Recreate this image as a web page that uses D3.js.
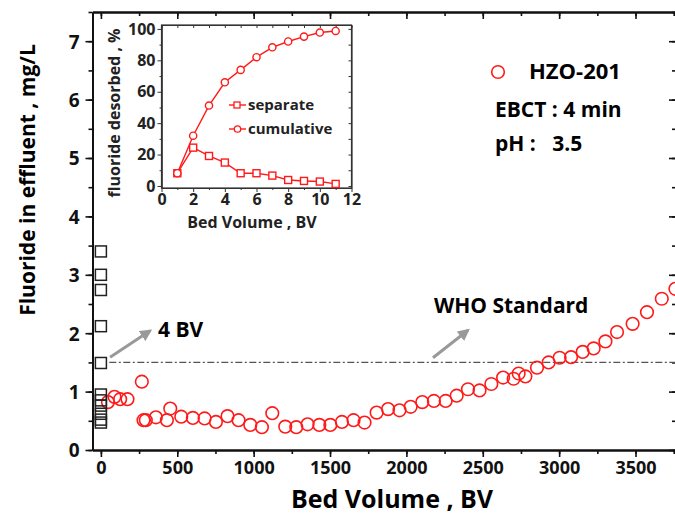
<html>
<head>
<script src="https://cdnjs.cloudflare.com/ajax/libs/d3/7.8.5/d3.min.js"></script>
<style>
body { margin: 0; background: #fff; }
text { font-family: "Open Sans", sans-serif; font-weight: bold; }
</style>
</head>
<body>
<div id="chart"></div>
<script>
// main data: red circles (HZO-201)
var bedVolume = [46, 89, 126, 174, 268, 279, 294, 360, 432, 454, 526, 602, 679, 753, 829, 901, 978, 1054, 1122,
    1207, 1279, 1353, 1430, 1502, 1578, 1654, 1726, 1805, 1880, 1955, 2028, 2104, 2180, 2257, 2329, 2403, 2479,
    2556, 2633, 2702, 2735, 2779, 2855, 2931, 3003, 3078, 3154, 3226, 3303, 3379, 3481, 3575, 3672, 3761];
var fluoride = [0.82, 0.91, 0.87, 0.87, 1.17, 0.51, 0.51, 0.56, 0.51, 0.71, 0.57, 0.55, 0.54, 0.48, 0.58, 0.51, 0.43, 0.39, 0.63,
    0.40, 0.39, 0.44, 0.43, 0.43, 0.48, 0.51, 0.47, 0.64, 0.70, 0.68, 0.74, 0.82, 0.84, 0.84, 0.93, 1.04, 1.02,
    1.13, 1.24, 1.22, 1.31, 1.26, 1.41, 1.50, 1.58, 1.59, 1.68, 1.74, 1.86, 2.02, 2.16, 2.36, 2.59, 2.76];

// black squares at the start (first 4 BV)
var startBV = [0, 0, 0, 0, 0, 0, 0, 0, 0, 0, 0];
var startFluoride = [3.40, 3.00, 2.74, 2.12, 1.49, 0.95, 0.85, 0.76, 0.62, 0.52, 0.47];

var whoStandard = 1.5;

// inset data
var insetBV = [1, 2, 3, 4, 5, 6, 7, 8, 9, 10, 11];
var separate = [8.1, 24.4, 19.1, 14.9, 8.1, 8.1, 6.6, 3.8, 3.2, 2.8, 1.3];
var cumulative = [8.1, 32, 51.2, 66, 73.9, 82, 88.3, 92, 95.1, 97.7, 98.7];

var xTicks = [0, 500, 1000, 1500, 2000, 2500, 3000, 3500];
var yTicks = [0, 1, 2, 3, 4, 5, 6, 7];
var insetXTicks = [0, 2, 4, 6, 8, 10, 12];
var insetYTicks = [0, 20, 40, 60, 80, 100];

var W = 675, H = 519;
var red = "#ff1a1a";

var svg = d3.select("#chart").append("svg")
    .attr("width", W).attr("height", H);

// Main plot ***********************
var mLeft = 92.5, mRight = 676, mTop = 12, mBottom = 450;
var x = d3.scaleLinear().domain([-55, 3765]).range([mLeft, mRight]);
var y = d3.scaleLinear().domain([0, 7.5]).range([mBottom, mTop]);

function minor(step, max) {
    return d3.range(0, max + 0.001, step);
}

// axes
var xAxis = svg.append("g")
    .attr("transform", "translate(0," + mBottom + ")")
    .call(d3.axisBottom(x).tickValues(xTicks).tickSize(7).tickSizeOuter(0).tickPadding(4).tickFormat(d3.format("d")));
svg.append("g")
    .attr("transform", "translate(0," + mBottom + ")")
    .call(d3.axisBottom(x).tickValues(minor(250, 3750)).tickSize(4).tickFormat("").tickSizeOuter(0));
var yAxis = svg.append("g")
    .attr("transform", "translate(" + mLeft + ",0)")
    .call(d3.axisLeft(y).tickValues(yTicks).tickSize(7).tickSizeOuter(0).tickPadding(6));
svg.append("g")
    .attr("transform", "translate(" + mLeft + ",0)")
    .call(d3.axisLeft(y).tickValues(minor(0.5, 7.5)).tickSize(4).tickFormat("").tickSizeOuter(0));
// top and right frame with inward ticks
svg.append("g")
    .attr("transform", "translate(0," + mTop + ")")
    .call(d3.axisBottom(x).tickValues(xTicks).tickSize(7).tickFormat("").tickSizeOuter(0));
svg.append("g")
    .attr("transform", "translate(0," + mTop + ")")
    .call(d3.axisBottom(x).tickValues(minor(250, 3750)).tickSize(4).tickFormat("").tickSizeOuter(0));
svg.append("g")
    .attr("transform", "translate(" + mRight + ",0)")
    .call(d3.axisLeft(y).tickValues(yTicks).tickSize(7).tickFormat("").tickSizeOuter(0));
svg.append("g")
    .attr("transform", "translate(" + mRight + ",0)")
    .call(d3.axisLeft(y).tickValues(minor(0.5, 7.5)).tickSize(4).tickFormat("").tickSizeOuter(0));

svg.selectAll(".domain").attr("stroke", "#111").attr("stroke-width", 2);
svg.selectAll(".tick line").attr("stroke", "#111").attr("stroke-width", 1.6);
xAxis.selectAll("text").style("font-size", "18px").attr("fill", "#111");
yAxis.selectAll("text").style("font-size", "19px").attr("fill", "#111").attr("dy", "0.36em");

// axis titles
svg.append("text")
    .attr("x", 392).attr("y", 508)
    .attr("text-anchor", "middle")
    .style("font-size", "25px")
    .text("Bed Volume , BV");
svg.append("text")
    .attr("transform", "translate(35,180) rotate(-90)")
    .attr("text-anchor", "middle")
    .style("font-size", "21px")
    .text("Fluoride in effluent , mg/L");

// WHO line
svg.append("line")
    .attr("x1", x(55)).attr("x2", mRight)
    .attr("y1", y(whoStandard)).attr("y2", y(whoStandard))
    .attr("stroke", "#555").attr("stroke-width", 1.3)
    .attr("stroke-dasharray", "7,2.5,2,2.5");

// red circles
svg.selectAll("circle.hzo")
    .data(bedVolume)
    .enter()
    .append("circle")
    .attr("class", "hzo")
    .attr("cx", function (d) { return x(d); })
    .attr("cy", function (d, i) { return y(fluoride[i]); })
    .attr("r", 6.3)
    .attr("fill", "none")
    .attr("stroke", red)
    .attr("stroke-width", 1.6);

// black squares
svg.selectAll("rect.start")
    .data(startFluoride)
    .enter()
    .append("rect")
    .attr("class", "start")
    .attr("x", function (d, i) { return x(startBV[i]) - 5.5; })
    .attr("y", function (d) { return y(d) - 5.5; })
    .attr("width", 11).attr("height", 11)
    .attr("fill", "none")
    .attr("stroke", "#222")
    .attr("stroke-width", 1.5);

// arrows + notes
svg.append("defs").append("marker")
    .attr("id", "head")
    .attr("viewBox", "0 0 10 10")
    .attr("refX", 8).attr("refY", 5)
    .attr("markerWidth", 4).attr("markerHeight", 4)
    .attr("orient", "auto")
    .append("path")
    .attr("d", "M0,0 L10,5 L0,10 z")
    .attr("fill", "#999");

function arrow(v1, f1, v2, f2) {
    svg.append("line")
        .attr("x1", x(v1)).attr("y1", y(f1))
        .attr("x2", x(v2)).attr("y2", y(f2))
        .attr("stroke", "#999").attr("stroke-width", 3)
        .attr("marker-end", "url(#head)");
}
arrow(60, 1.59, 322, 2.04);
arrow(2174, 1.58, 2403, 2.05);

svg.append("text")
    .attr("x", x(374)).attr("y", y(1.93))
    .style("font-size", "21px")
    .text("4 BV");
svg.append("text")
    .attr("x", x(2180)).attr("y", y(2.35))
    .style("font-size", "21px")
    .text("WHO Standard");

// legend
svg.append("circle")
    .attr("cx", 498).attr("cy", 72).attr("r", 6.3)
    .attr("fill", "none").attr("stroke", red).attr("stroke-width", 1.6);
svg.append("text").attr("x", 529).attr("y", 79).style("font-size", "22px").text("HZO-201");
svg.append("text").attr("x", 495).attr("y", 117).style("font-size", "21px").text("EBCT : 4 min");
svg.append("text").attr("x", 495).attr("y", 151).style("font-size", "21px").attr("xml:space", "preserve").text("pH :   3.5");

// Inset ***********************
var iLeft = 161.5, iRight = 351.5, iTop = 25, iBottom = 188;
var ix = d3.scaleLinear().domain([0, 12]).range([iLeft, iRight]);
var iy = d3.scaleLinear().domain([-1.3, 102.5]).range([iBottom, iTop]);

var inset = svg.append("g");
inset.append("rect")
    .attr("x", iLeft).attr("y", iTop)
    .attr("width", iRight - iLeft).attr("height", iBottom - iTop)
    .attr("fill", "#fff").attr("stroke", "#333").attr("stroke-width", 1.2);

var ixAxis = inset.append("g")
    .attr("transform", "translate(0," + iBottom + ")")
    .call(d3.axisBottom(ix).tickValues(insetXTicks).tickSize(4).tickSizeOuter(0).tickPadding(2));
inset.append("g")
    .attr("transform", "translate(0," + iBottom + ")")
    .call(d3.axisBottom(ix).tickValues(d3.range(1, 12, 2)).tickSize(2).tickFormat("").tickSizeOuter(0));
var iyAxis = inset.append("g")
    .attr("transform", "translate(" + iLeft + ",0)")
    .call(d3.axisLeft(iy).tickValues(insetYTicks).tickSize(4).tickSizeOuter(0).tickPadding(2));
inset.append("g")
    .attr("transform", "translate(" + iLeft + ",0)")
    .call(d3.axisLeft(iy).tickValues(d3.range(10, 100, 20)).tickSize(2).tickFormat("").tickSizeOuter(0));
inset.append("g")
    .attr("transform", "translate(" + iRight + ",0)")
    .call(d3.axisLeft(iy).tickValues(d3.range(0, 101, 10)).tickSize(3).tickFormat("").tickSizeOuter(0));
inset.append("g")
    .attr("transform", "translate(0," + iTop + ")")
    .call(d3.axisBottom(ix).tickValues(d3.range(0, 13, 1)).tickSize(3).tickFormat("").tickSizeOuter(0));
inset.selectAll(".domain").attr("stroke", "#333").attr("stroke-width", 1.2);
inset.selectAll(".tick line").attr("stroke", "#333");
ixAxis.selectAll("text").style("font-size", "16px").attr("fill", "#222");
iyAxis.selectAll("text").style("font-size", "16px").attr("fill", "#222");

inset.append("text")
    .attr("x", 252).attr("y", 228)
    .attr("text-anchor", "middle")
    .style("font-size", "16px").attr("fill", "#222")
    .text("Bed Volume , BV");
inset.append("text")
    .attr("transform", "translate(120,113) rotate(-90)")
    .attr("text-anchor", "middle")
    .style("font-size", "16px").attr("fill", "#222")
    .text("fluoride desorbed , %");

var line = d3.line()
    .x(function (d, i) { return ix(insetBV[i]); })
    .y(function (d) { return iy(d); });

inset.append("path").datum(separate)
    .attr("d", line).attr("fill", "none").attr("stroke", red).attr("stroke-width", 1.4);
inset.append("path").datum(cumulative)
    .attr("d", line).attr("fill", "none").attr("stroke", red).attr("stroke-width", 1.4);

inset.selectAll("rect.sep")
    .data(separate).enter().append("rect")
    .attr("class", "sep")
    .attr("x", function (d, i) { return ix(insetBV[i]) - 3.5; })
    .attr("y", function (d) { return iy(d) - 3.5; })
    .attr("width", 7).attr("height", 7)
    .attr("fill", "#fff").attr("stroke", red).attr("stroke-width", 1.4);
inset.selectAll("circle.cum")
    .data(cumulative).enter().append("circle")
    .attr("class", "cum")
    .attr("cx", function (d, i) { return ix(insetBV[i]); })
    .attr("cy", function (d) { return iy(d); })
    .attr("r", 3.6)
    .attr("fill", "#fff").attr("stroke", red).attr("stroke-width", 1.4);

// inset legend
var lg = inset.append("g");
[["separate", 105, "square"], ["cumulative", 129, "circle"]].forEach(function (e) {
    lg.append("line")
        .attr("x1", 229).attr("x2", 246).attr("y1", e[1]).attr("y2", e[1])
        .attr("stroke", red).attr("stroke-width", 1.4);
    if (e[2] === "square") {
        lg.append("rect").attr("x", 234).attr("y", e[1] - 3).attr("width", 6).attr("height", 6)
            .attr("fill", "#fff").attr("stroke", red).attr("stroke-width", 1.3);
    } else {
        lg.append("circle").attr("cx", 237.5).attr("cy", e[1]).attr("r", 3.2)
            .attr("fill", "#fff").attr("stroke", red).attr("stroke-width", 1.3);
    }
    lg.append("text")
        .attr("x", 248).attr("y", e[1] + 5)
        .style("font-size", "15px").attr("fill", "#222")
        .text(e[0]);
});
</script>
</body>
</html>
